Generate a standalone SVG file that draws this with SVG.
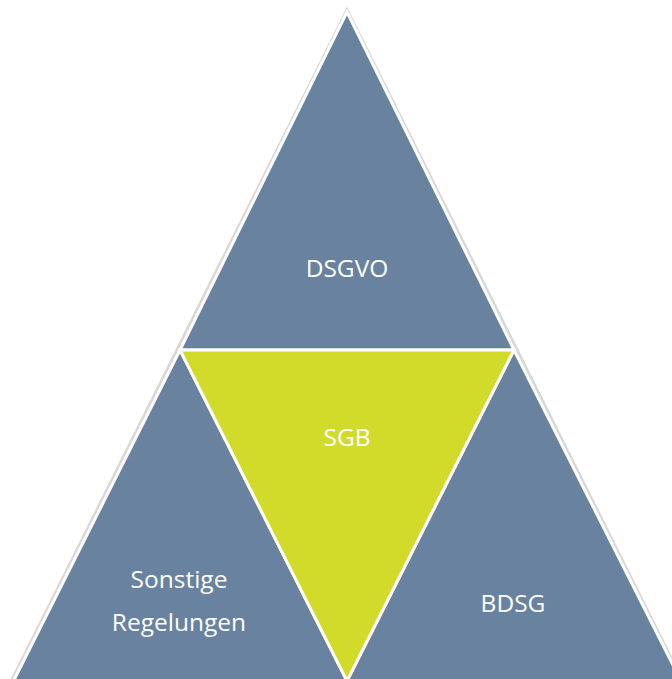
<svg xmlns="http://www.w3.org/2000/svg" width="672" height="679" viewBox="0 0 672 679">
<style>
.tri{stroke:#ffffff;stroke-width:3;stroke-linejoin:miter}
.sh{fill:none;stroke:#d8d8d8;stroke-width:5}
.blue{fill:#6882A0}
.yel{fill:#D3DB2A}
.lbl{font-family:"Open Sans","Noto Sans",sans-serif;font-size:24.5px;fill:#ffffff;text-anchor:middle}
</style>
<rect width="672" height="679" fill="#ffffff"/>
<polygon class="sh" points="347,12 13.5,679 680.5,679"/>
<g id="dsgvo">
<polygon class="tri blue" points="347,12 180,350 514,350"/>
<text class="lbl" x="347" y="277">DSGVO</text>
</g>
<g id="sonstige">
<polygon class="tri blue" points="180,350 13.5,681 347,681"/>
<text class="lbl" x="179" y="588">Sonstige</text>
<text class="lbl" x="179" y="631">Regelungen</text>
</g>
<g id="bdsg">
<polygon class="tri blue" points="514,350 347,681 681,681"/>
<text class="lbl" x="513" y="612">BDSG</text>
</g>
<g id="sgb">
<polygon class="tri yel" points="180,350 514,350 347,681"/>
<text class="lbl" x="347" y="446">SGB</text>
</g>
<g id="connectors"/>
</svg>
